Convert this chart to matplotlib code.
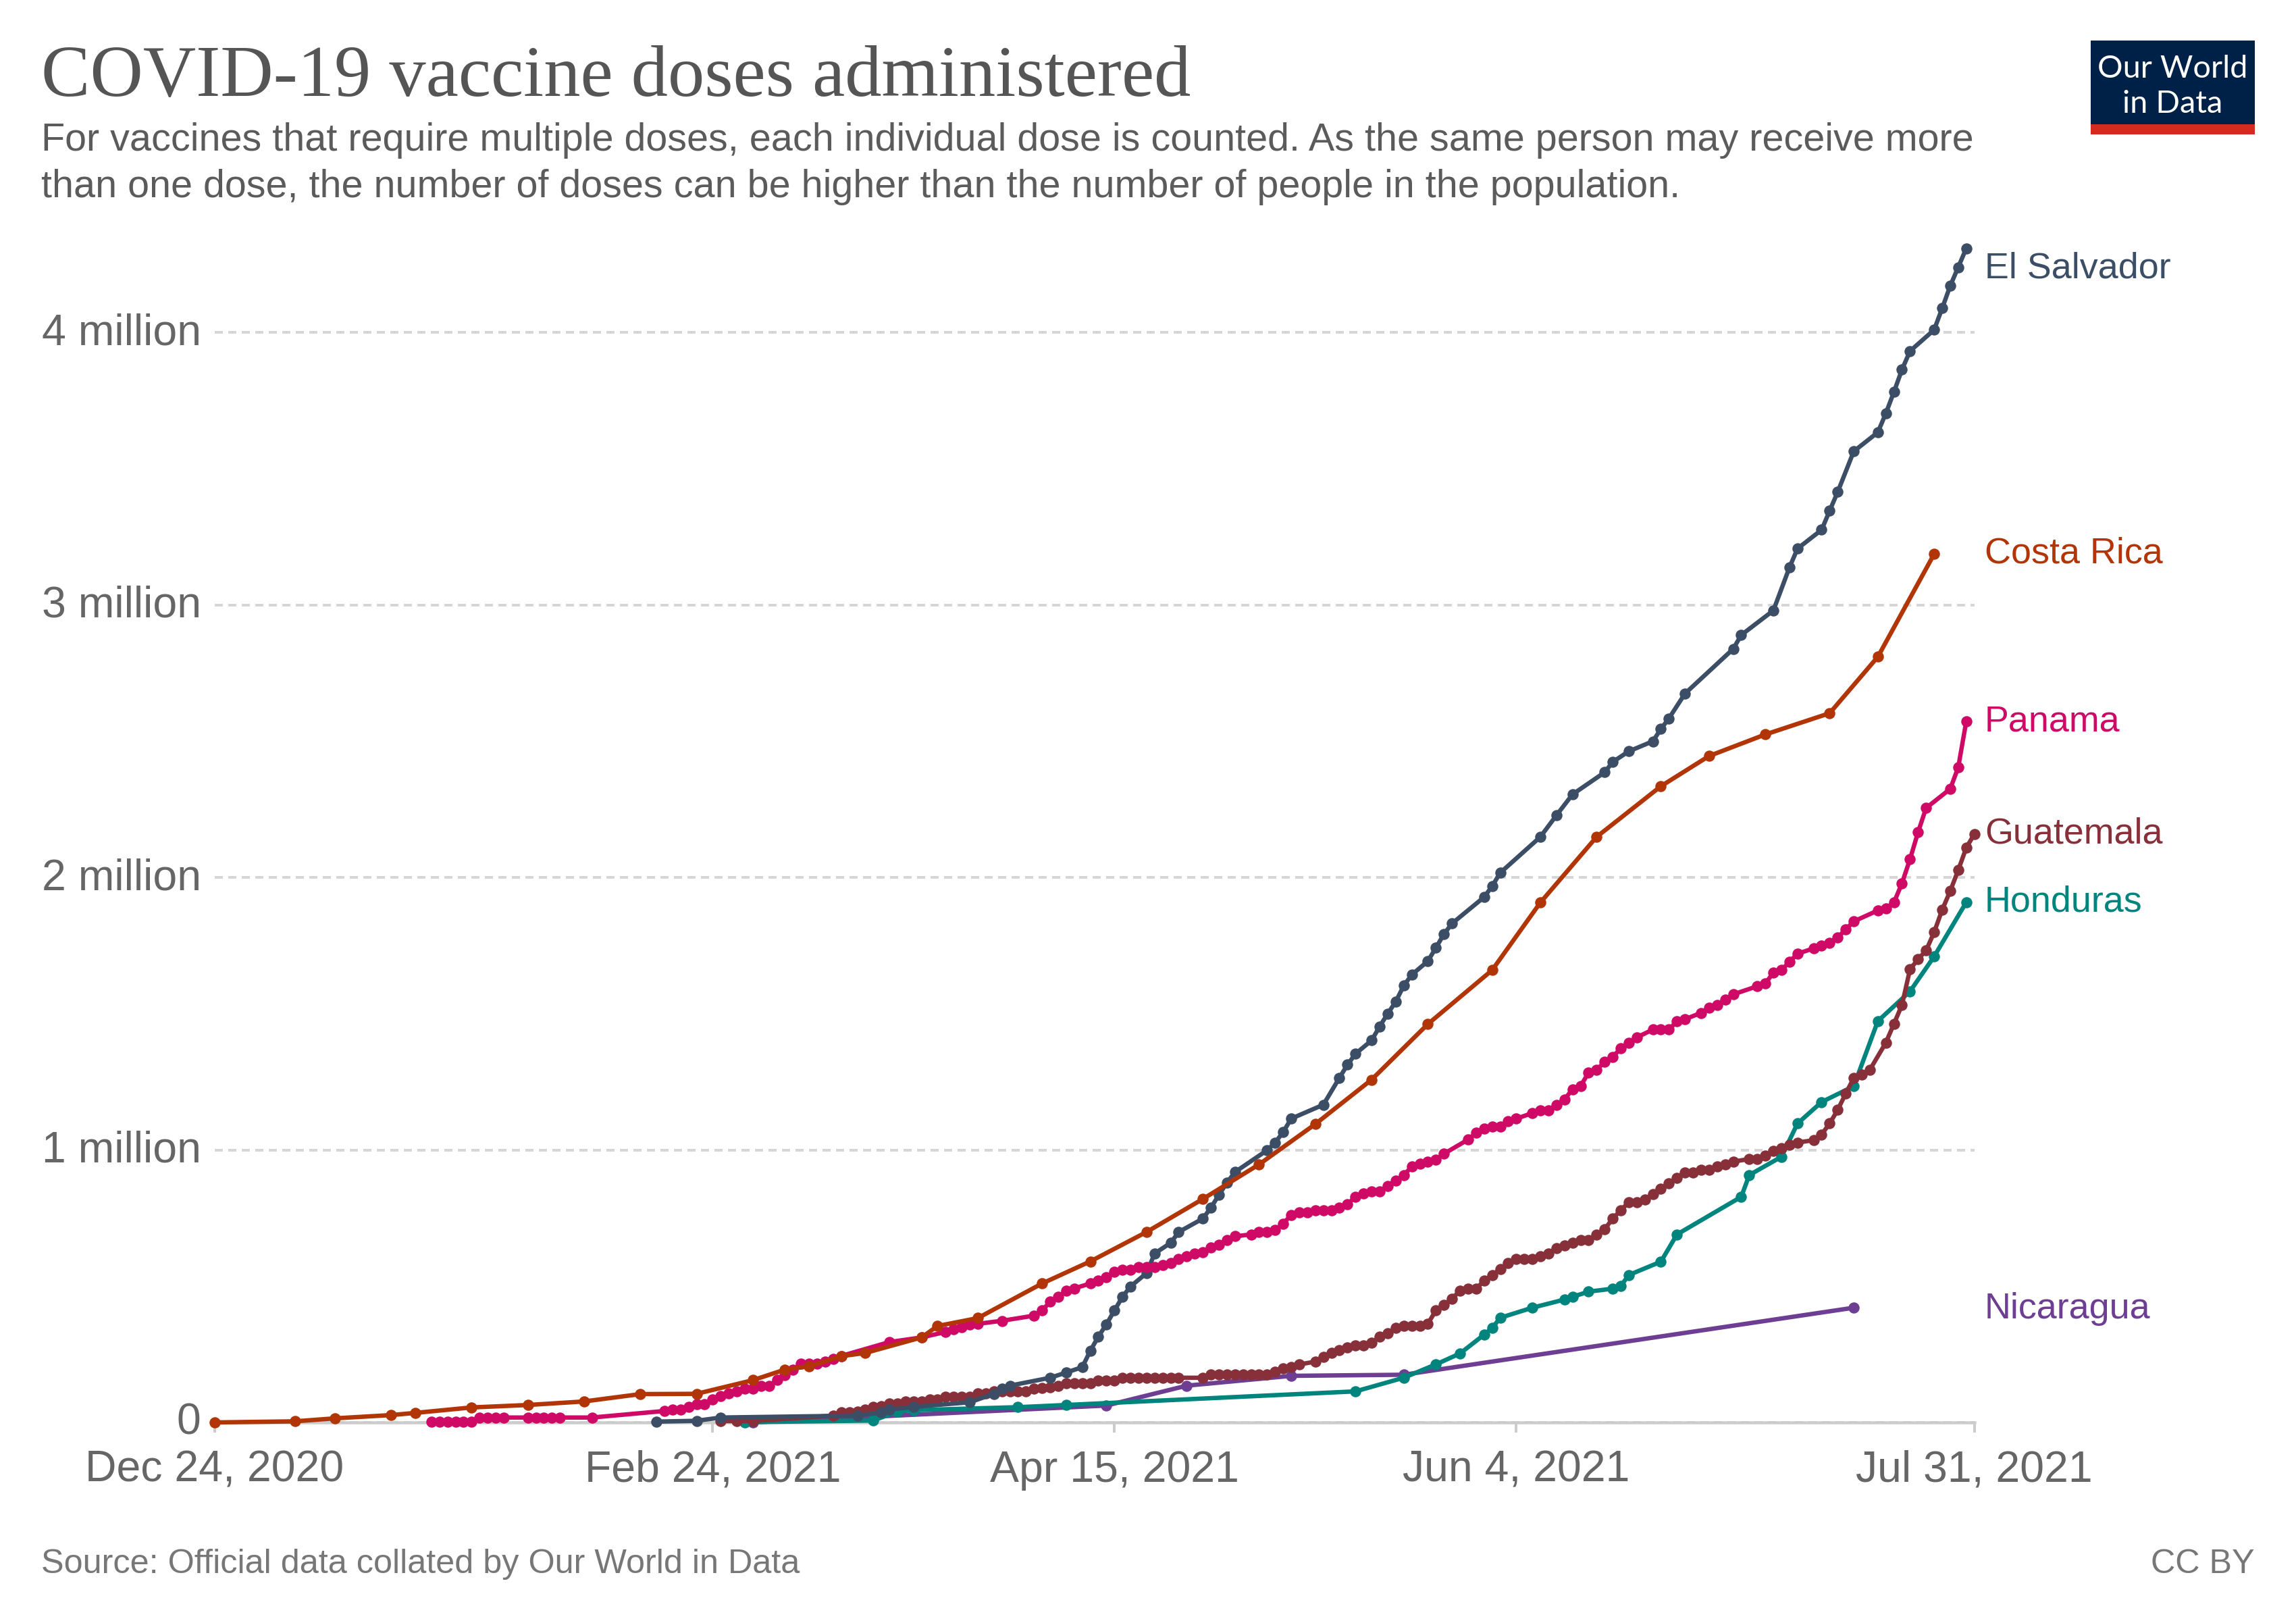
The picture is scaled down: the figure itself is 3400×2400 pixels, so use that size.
import matplotlib
matplotlib.use("Agg")
import matplotlib.pyplot as plt
from matplotlib.patches import Rectangle
from matplotlib.transforms import ScaledTranslation

plt.rcParams['font.family'] = ['Liberation Sans', 'DejaVu Sans']
plt.rcParams['lines.scale_dashes'] = False

TITLE = "COVID-19 vaccine doses administered"
SUBTITLE_1 = "For vaccines that require multiple doses, each individual dose is counted. As the same person may receive more"
SUBTITLE_2 = "than one dose, the number of doses can be higher than the number of people in the population."
SOURCE = "Source: Official data collated by Our World in Data"
LICENSE = "CC BY"

x_tick_days = [0, 62, 112, 162, 219]
x_tick_labels = ["Dec 24, 2020", "Feb 24, 2021", "Apr 15, 2021", "Jun 4, 2021", "Jul 31, 2021"]
y_ticks = [0, 1, 2, 3, 4]
y_tick_labels = ["0", "1 million", "2 million", "3 million", "4 million"]

# days since Dec 24, 2020 / doses in millions
costa_rica_days = [0,10,15,22,25,32,39,46,53,60,67,71,74,78,81,88,90,95,103,109,116,123,130,137,144,151,159,165,172,180,186,193,201,207,214]
costa_rica_vals = [0,.004,.015,.027,.035,.055,.064,.077,.104,.105,.155,.194,.206,.243,.255,.312,.354,.383,.510,.591,.699,.820,.947,1.095,1.258,1.462,1.660,1.908,2.149,2.335,2.446,2.525,2.603,2.810,3.187]

el_salvador_days = [55,60,63,80,83,84,87,94,97,98,99,104,106,108,109,110,111,112,113,114,116,117,119,120,123,124,125,126,127,131,132,133,134,138,140,141,142,144,145,146,147,148,149,151,152,153,154,158,159,160,165,167,169,173,174,176,179,180,181,183,189,190,194,196,197,200,201,202,204,207,208,209,210,211,214,215,216,217,218]
el_salvador_vals = [.003,.006,.018,.025,.037,.047,.057,.074,.105,.125,.135,.164,.183,.203,.263,.315,.360,.411,.461,.499,.548,.620,.659,.699,.748,.788,.835,.880,.919,.999,1.027,1.066,1.115,1.166,1.265,1.313,1.353,1.402,1.453,1.500,1.544,1.603,1.643,1.693,1.742,1.792,1.831,1.928,1.968,2.017,2.149,2.228,2.305,2.386,2.424,2.463,2.500,2.545,2.584,2.675,2.839,2.890,2.980,3.138,3.207,3.276,3.346,3.415,3.564,3.634,3.704,3.782,3.864,3.932,4.010,4.089,4.171,4.240,4.309]

panama_days = [27,28,29,30,31,32,33,34,35,36,39,40,41,42,43,47,56,57,58,59,60,61,62,63,64,65,66,67,68,69,70,71,72,73,74,75,76,77,78,84,88,91,92,93,94,95,98,102,103,104,105,106,107,109,110,111,112,113,114,115,116,117,118,119,120,121,122,123,124,125,126,127,129,130,131,132,133,134,135,136,137,138,139,140,141,142,143,144,145,146,147,148,149,150,151,152,153,156,157,158,159,160,161,162,164,165,166,167,168,169,170,171,172,173,174,175,176,177,179,180,181,182,183,185,186,187,188,189,192,193,194,195,196,197,199,200,201,202,203,204,207,208,209,210,211,212,213,216,217,218]
panama_vals = [.003,.003,.003,.003,.003,.003,.018,.018,.018,.018,.018,.018,.018,.018,.018,.018,.042,.048,.048,.056,.067,.067,.085,.096,.106,.115,.124,.124,.134,.134,.156,.174,.193,.216,.216,.216,.223,.233,.244,.295,.312,.332,.342,.349,.360,.362,.373,.392,.411,.443,.461,.483,.492,.510,.520,.533,.554,.560,.560,.570,.570,.570,.578,.585,.600,.610,.620,.625,.642,.652,.669,.683,.690,.699,.699,.707,.730,.761,.771,.771,.778,.778,.778,.788,.800,.829,.840,.847,.847,.867,.888,.907,.939,.949,.957,.964,.986,1.038,1.063,1.078,1.085,1.085,1.105,1.115,1.135,1.145,1.145,1.165,1.185,1.223,1.234,1.284,1.294,1.323,1.341,1.373,1.393,1.413,1.442,1.442,1.442,1.472,1.480,1.503,1.522,1.531,1.551,1.571,1.601,1.611,1.651,1.660,1.690,1.720,1.740,1.750,1.760,1.780,1.809,1.839,1.879,1.887,1.908,1.979,2.067,2.166,2.255,2.325,2.404,2.573]

guatemala_days = [63,65,67,77,78,79,80,81,82,83,84,85,86,87,88,89,90,91,92,93,94,95,96,97,98,99,100,101,102,103,104,105,106,107,108,109,110,111,112,113,114,115,116,117,118,119,120,123,124,125,126,127,128,129,130,131,132,133,134,135,137,138,139,140,141,142,143,144,145,146,147,148,149,150,151,152,153,154,155,156,157,158,159,160,161,162,163,164,165,166,167,168,169,170,171,172,173,174,175,176,177,178,179,180,181,182,183,184,185,186,187,188,189,191,192,193,194,195,196,197,199,200,201,202,203,204,205,206,208,209,210,211,212,213,214,215,216,217,218,219]
guatemala_vals = [.005,.005,.005,.025,.037,.037,.040,.047,.057,.060,.069,.069,.077,.077,.077,.084,.084,.094,.094,.094,.094,.107,.107,.114,.114,.114,.114,.114,.123,.126,.130,.134,.144,.144,.144,.144,.154,.154,.154,.164,.164,.164,.164,.164,.164,.164,.164,.164,.175,.175,.175,.175,.175,.175,.175,.175,.186,.198,.203,.213,.223,.240,.255,.265,.275,.283,.283,.292,.315,.327,.346,.354,.354,.354,.362,.411,.432,.454,.483,.490,.490,.520,.541,.563,.584,.600,.600,.600,.610,.620,.640,.649,.659,.669,.669,.689,.709,.748,.778,.808,.808,.818,.838,.857,.878,.897,.918,.918,.927,.927,.939,.948,.957,.967,.967,.979,.996,1.006,1.018,1.027,1.036,1.057,1.097,1.147,1.207,1.264,1.276,1.294,1.394,1.463,1.532,1.663,1.700,1.732,1.799,1.881,1.950,2.027,2.109,2.159]

honduras_days = [66,82,85,87,100,106,142,148,152,155,158,159,160,164,168,169,171,174,175,176,180,182,190,191,195,197,200,204,207,211,214,218]
honduras_vals = [.001,.007,.040,.045,.056,.064,.114,.164,.213,.253,.322,.346,.384,.421,.451,.461,.480,.491,.500,.541,.590,.690,.828,.908,.975,1.097,1.176,1.234,1.473,1.582,1.710,1.909]

nicaragua_days = [67,111,121,134,148,204]
nicaragua_vals = [0,.062,.135,.171,.175,.421]

# bottom-to-top drawing order
series = [
    ("Nicaragua", nicaragua_days, nicaragua_vals, "#6D3E91", 1938),
    ("Honduras", honduras_days, honduras_vals, "#00847E", 1335),
    ("Guatemala", guatemala_days, guatemala_vals, "#883039", 1235),
    ("El Salvador", el_salvador_days, el_salvador_vals, "#3C4E66", 397),
    ("Panama", panama_days, panama_vals, "#CF0A66", 1068),
    ("Costa Rica", costa_rica_days, costa_rica_vals, "#B13507", 819),
]

W, H = 3400, 2400
DPI = 200
fig = plt.figure(figsize=(W / DPI, H / DPI), dpi=DPI, facecolor="white")

def fx(px):
    return px / W

def fy(py):
    return 1 - py / H

def pt(px):
    return px * 72 / DPI

# axes placed so that day 0 / value 0 land where the reference has them
L, R, T, B = 317.5, 2923.6, 340.0, 2106.0
ax = fig.add_axes([fx(L), fy(B), (R - L) / W, (B - T) / H])
ax.set_xlim(0, 219)
ax.set_ylim(0, (B - T) / 403.4)
ax.patch.set_alpha(0)

for s in ("top", "right", "left"):
    ax.spines[s].set_visible(False)
ax.spines["bottom"].set_color("#cccccc")
ax.spines["bottom"].set_linewidth(pt(4.5))
ax.spines["bottom"].set_zorder(1.5)

ax.set_yticks(y_ticks)
ax.set_yticklabels(y_tick_labels, fontsize=23.2, color="#666666")
ax.tick_params(axis="y", length=0, pad=pt(20))
for lab in ax.get_yticklabels():
    lab.set_verticalalignment("center")
    lab.set_transform(lab.get_transform() + ScaledTranslation(0, -1.0 / DPI, fig.dpi_scale_trans))
ax.set_xticks(x_tick_days)
ax.set_xticklabels(x_tick_labels, fontsize=23.2, color="#666666")
ax.tick_params(axis="x", length=pt(15), width=pt(4), color="#cccccc", pad=pt(26))
ax.grid(axis="y", color="#d6d6d6", linewidth=pt(4), linestyle=(0, (pt(12), pt(8))), zorder=1)
ax.set_axisbelow(True)

for name, days, vals, color, label_y in series:
    ax.plot(days, vals, "-o", color=color, linewidth=pt(6.5), markersize=pt(16.5),
            markeredgewidth=0, clip_on=False, zorder=3, solid_capstyle="round")
    fig.text(fx(2939), fy(label_y), name, color=color, fontsize=19.4, va="center", ha="left")

fig.text(fx(61), fy(142), TITLE, family=["Liberation Serif", "DejaVu Serif"], fontsize=39.05,
         color="#555555", va="baseline", ha="left")
fig.text(fx(61), fy(223), SUBTITLE_1, fontsize=20.73, color="#5b5b5b", va="baseline", ha="left")
fig.text(fx(61), fy(292), SUBTITLE_2, fontsize=20.73, color="#5b5b5b", va="baseline", ha="left")
fig.text(fx(61), fy(2329), SOURCE, fontsize=18.13, color="#777777", va="baseline", ha="left")
fig.text(fx(3339), fy(2329), LICENSE, fontsize=18.13, color="#777777", va="baseline", ha="right")

fig.add_artist(Rectangle((fx(3096), fy(199)), 243 / W, 139 / H, transform=fig.transFigure,
                         facecolor="#002147", edgecolor="none"))
fig.add_artist(Rectangle((fx(3096), fy(199)), 243 / W, 15 / H, transform=fig.transFigure,
                         facecolor="#D42B21", edgecolor="none"))
fig.text(fx(3217), fy(115), "Our World", family=["Lato", "DejaVu Sans"], fontsize=16.9,
         color="white", ha="center", va="baseline")
fig.text(fx(3217), fy(167), "in Data", family=["Lato", "DejaVu Sans"], fontsize=16.9,
         color="white", ha="center", va="baseline")

fig.savefig("out.png", dpi=DPI, facecolor="white")
